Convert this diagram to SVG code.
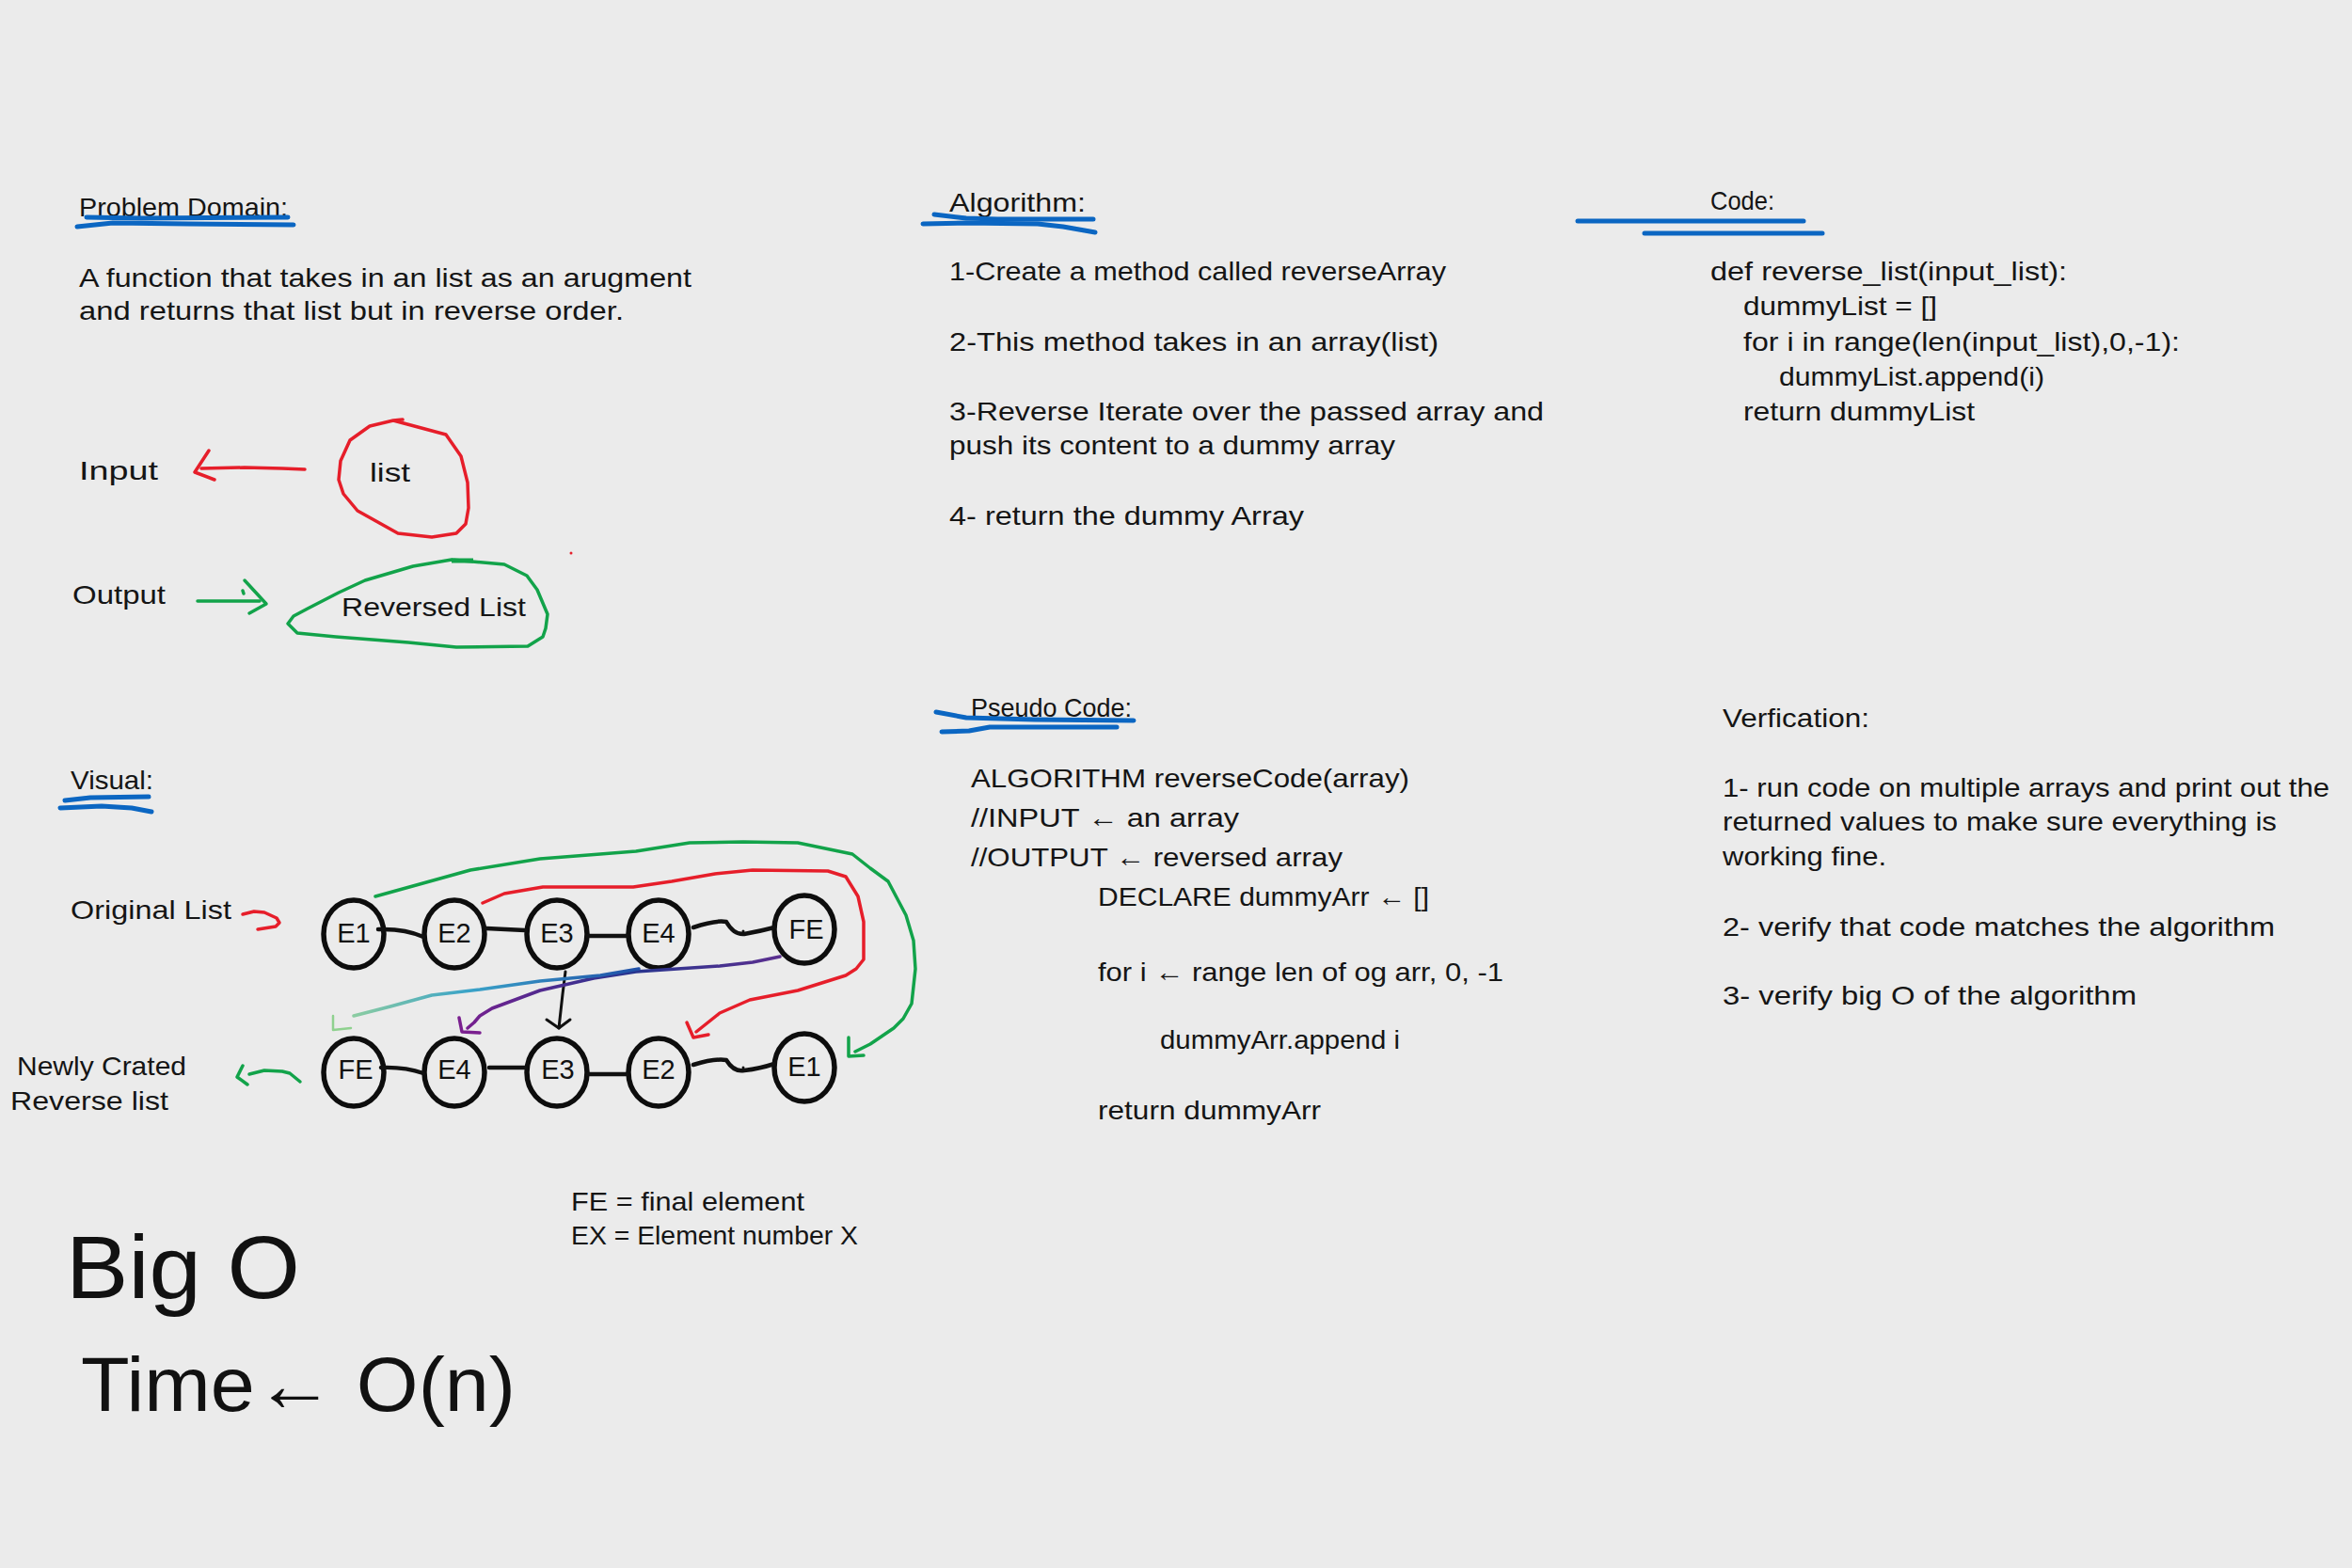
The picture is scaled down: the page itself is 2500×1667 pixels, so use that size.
<svg xmlns="http://www.w3.org/2000/svg" width="2500" height="1667" viewBox="0 0 2500 1667">
<style>
.t{font-family:"Liberation Sans Narrow","Liberation Sans",Arial,sans-serif;font-size:28px;fill:#151515;}
.nl{font-family:"Liberation Sans Narrow","Liberation Sans",Arial,sans-serif;font-size:29px;fill:#111;text-anchor:middle;}
.big{font-family:"Liberation Sans Narrow","Liberation Sans",Arial,sans-serif;fill:#111;}
.ul{stroke:#0b66c2;stroke-width:5;fill:none;stroke-linecap:round;stroke-linejoin:round;}
.red{stroke:#e61e2a;stroke-width:3.5;fill:none;stroke-linecap:round;stroke-linejoin:round;}
.grn{stroke:#12a34a;stroke-width:3.5;fill:none;stroke-linecap:round;stroke-linejoin:round;}
.blk{stroke:#111;stroke-width:3;fill:none;stroke-linecap:round;stroke-linejoin:round;}
.link{stroke:#111;stroke-width:4.5;fill:none;stroke-linecap:round;stroke-linejoin:round;}
.node ellipse{fill:none;stroke:#0d0d0d;stroke-width:5.5;}
</style>
<defs>
<linearGradient id="gTeal" gradientUnits="userSpaceOnUse" x1="680" y1="1030" x2="354" y2="1095">
<stop offset="0" stop-color="#1f4fa8"/><stop offset="0.55" stop-color="#3aa3c8"/><stop offset="1" stop-color="#9bd49a"/>
</linearGradient>
<linearGradient id="gPurp" gradientUnits="userSpaceOnUse" x1="829" y1="1017" x2="490" y2="1098">
<stop offset="0" stop-color="#5b2f8f"/><stop offset="0.45" stop-color="#27358f"/><stop offset="1" stop-color="#7a1f8f"/>
</linearGradient>
</defs>
<rect width="2500" height="1667" fill="#ebebeb"/>

<g id="problem-domain">
<text class="t" x="84" y="230" textLength="222" lengthAdjust="spacingAndGlyphs">Problem Domain:</text>
<polyline class="ul" points="92,231 150,232 306,231"/>
<polyline class="ul" points="82,241 120,237 200,238 312,239"/>
<text class="t" x="84" y="305" textLength="651" lengthAdjust="spacingAndGlyphs">A function that takes in an list as an arugment</text>
<text class="t" x="84" y="340" textLength="579" lengthAdjust="spacingAndGlyphs">and returns that list but in reverse order.</text>
</g>

<g id="input">
<text class="t" x="84" y="510" textLength="84" lengthAdjust="spacingAndGlyphs">Input</text>
<polyline class="red" points="324,499 300,498 260,497 214,498"/>
<polyline class="red" points="222,479 207,502 228,510"/>
</g>
<g id="node-list">
<polyline class="red" points="393,453 418,447 428,446 418,447 474,462 490,485 497,513 498,540 495,557 485,567 459,571 423,567 380,543 365,525 360,510 362,490 372,468 393,453"/>
<text class="t" x="393" y="512" textLength="43" lengthAdjust="spacingAndGlyphs">list</text>
</g>

<g id="output">
<text class="t" x="77" y="642" textLength="99" lengthAdjust="spacingAndGlyphs">Output</text>
<polyline class="grn" points="210,639 240,639 276,639"/>
<polyline class="grn" points="260,617 283,642 265,652"/>
<line class="grn" x1="258" y1="628" x2="259" y2="631"/>
</g>
<g id="node-reversed-list">
<polyline class="grn" points="480,595 536,600 560,612 571,627 582,653 580,668 577,677 561,687 485,688 434,683 357,677 316,673 306,663 312,655 327,647 360,630 388,617 439,602 480,595"/>
<line x1="480" y1="596" x2="503" y2="596" stroke="#12a34a" stroke-width="5"/>
<text class="t" x="363" y="655" textLength="196" lengthAdjust="spacingAndGlyphs">Reversed List</text>
</g>
<circle cx="607" cy="588" r="1.5" fill="#e61e2a"/>

<g id="algorithm">
<text class="t" x="1009" y="225" textLength="145" lengthAdjust="spacingAndGlyphs">Algorithm:</text>
<polyline class="ul" points="993,228 1027,232 1060,233 1162,233"/>
<polyline class="ul" points="981,238 1027,237 1103,238 1130,241 1164,247"/>
<text class="t" x="1009" y="298" textLength="528" lengthAdjust="spacingAndGlyphs">1-Create a method called reverseArray</text>
<text class="t" x="1009" y="373" textLength="520" lengthAdjust="spacingAndGlyphs">2-This method takes in an array(list)</text>
<text class="t" x="1009" y="447" textLength="632" lengthAdjust="spacingAndGlyphs">3-Reverse Iterate over the passed array and</text>
<text class="t" x="1009" y="483" textLength="474" lengthAdjust="spacingAndGlyphs">push its content to a dummy array</text>
<text class="t" x="1009" y="558" textLength="377" lengthAdjust="spacingAndGlyphs">4- return the dummy Array</text>
</g>

<g id="code">
<text class="t" x="1818" y="223" textLength="68" lengthAdjust="spacingAndGlyphs">Code:</text>
<line class="ul" x1="1677" y1="235" x2="1917" y2="235"/>
<line class="ul" x1="1748" y1="248" x2="1937" y2="248"/>
<text class="t" x="1818" y="298" textLength="379" lengthAdjust="spacingAndGlyphs">def reverse_list(input_list):</text>
<text class="t" x="1853" y="335" textLength="206" lengthAdjust="spacingAndGlyphs">dummyList = []</text>
<text class="t" x="1853" y="373" textLength="464" lengthAdjust="spacingAndGlyphs">for i in range(len(input_list),0,-1):</text>
<text class="t" x="1891" y="410" textLength="282" lengthAdjust="spacingAndGlyphs">dummyList.append(i)</text>
<text class="t" x="1853" y="447" textLength="246" lengthAdjust="spacingAndGlyphs">return dummyList</text>
</g>

<g id="pseudo-code">
<text class="t" x="1032" y="762" textLength="171" lengthAdjust="spacingAndGlyphs">Pseudo Code:</text>
<polyline class="ul" points="995,757 1027,763 1100,765 1205,766"/>
<polyline class="ul" points="1001,778 1030,777 1052,773 1187,773"/>
<text class="t" x="1032" y="837" textLength="466" lengthAdjust="spacingAndGlyphs">ALGORITHM reverseCode(array)</text>
<text class="t" x="1032" y="879" textLength="285" lengthAdjust="spacingAndGlyphs">//INPUT ← an array</text>
<text class="t" x="1032" y="921" textLength="395" lengthAdjust="spacingAndGlyphs">//OUTPUT ← reversed array</text>
<text class="t" x="1167" y="963" textLength="352" lengthAdjust="spacingAndGlyphs">DECLARE dummyArr ← []</text>
<text class="t" x="1167" y="1043" textLength="431" lengthAdjust="spacingAndGlyphs">for i ← range len of og arr, 0, -1</text>
<text class="t" x="1233" y="1115" textLength="255" lengthAdjust="spacingAndGlyphs">dummyArr.append i</text>
<text class="t" x="1167" y="1190" textLength="237" lengthAdjust="spacingAndGlyphs">return dummyArr</text>
</g>

<g id="verification">
<text class="t" x="1831" y="773" textLength="156" lengthAdjust="spacingAndGlyphs">Verfication:</text>
<text class="t" x="1831" y="847" textLength="645" lengthAdjust="spacingAndGlyphs">1- run code on multiple arrays and print out the</text>
<text class="t" x="1831" y="883" textLength="589" lengthAdjust="spacingAndGlyphs">returned values to make sure everything is</text>
<text class="t" x="1831" y="920" textLength="174" lengthAdjust="spacingAndGlyphs">working fine.</text>
<text class="t" x="1831" y="995" textLength="587" lengthAdjust="spacingAndGlyphs">2- verify that code matches the algorithm</text>
<text class="t" x="1831" y="1068" textLength="440" lengthAdjust="spacingAndGlyphs">3- verify big O of the algorithm</text>
</g>

<g id="visual">
<text class="t" x="75" y="839" textLength="88" lengthAdjust="spacingAndGlyphs">Visual:</text>
<polyline class="ul" points="69,851 96,848 158,847"/>
<polyline class="ul" points="64,859 108,857 140,859 161,863"/>
<text class="t" x="75" y="977" textLength="171" lengthAdjust="spacingAndGlyphs">Original List</text>
<polyline class="red" points="258,972 270,969 281,970 294,976 297,981 293,985 274,988"/>
<text class="t" x="18" y="1143" textLength="180" lengthAdjust="spacingAndGlyphs">Newly Crated</text>
<text class="t" x="11" y="1180" textLength="168" lengthAdjust="spacingAndGlyphs">Reverse list</text>
<polyline class="grn" points="319,1150 308,1141 300,1139 281,1138 265,1142"/>
<polyline class="grn" points="258,1133 252,1145 263,1153"/>
</g>

<g id="node-top-E1" class="node"><ellipse cx="376" cy="993" rx="32" ry="36"/><text class="nl" x="376" y="1002">E1</text></g>
<g id="node-top-E2" class="node"><ellipse cx="483" cy="993" rx="32" ry="36"/><text class="nl" x="483" y="1002">E2</text></g>
<g id="node-top-E3" class="node"><ellipse cx="592" cy="993" rx="32" ry="36"/><text class="nl" x="592" y="1002">E3</text></g>
<g id="node-top-E4" class="node"><ellipse cx="700" cy="993" rx="32" ry="36"/><text class="nl" x="700" y="1002">E4</text></g>
<g id="node-top-FE" class="node"><ellipse cx="855" cy="988" rx="32" ry="36"/><text class="nl" x="857" y="998">FE</text></g>
<g id="node-bot-FE" class="node"><ellipse cx="376" cy="1140" rx="32" ry="36"/><text class="nl" x="378" y="1147">FE</text></g>
<g id="node-bot-E4" class="node"><ellipse cx="483" cy="1140" rx="32" ry="36"/><text class="nl" x="483" y="1147">E4</text></g>
<g id="node-bot-E3" class="node"><ellipse cx="592" cy="1140" rx="32" ry="36"/><text class="nl" x="593" y="1147">E3</text></g>
<g id="node-bot-E2" class="node"><ellipse cx="700" cy="1140" rx="32" ry="36"/><text class="nl" x="700" y="1147">E2</text></g>
<g id="node-bot-E1" class="node"><ellipse cx="855" cy="1135" rx="32" ry="36"/><text class="nl" x="855" y="1144">E1</text></g>

<g id="connectors">
<path class="link" d="M402,988 Q430,987 450,996"/>
<path class="link" d="M517,987 L558,989"/>
<path class="link" d="M625,995 L666,995"/>
<path class="link" d="M737,986 Q760,978 772,980 Q780,994 791,993 Q808,990 823,986"/>
<circle cx="790" cy="990" r="1.5" fill="#111"/>
<path class="link" d="M405,1135 Q430,1134 450,1141"/>
<path class="link" d="M520,1135 L558,1135"/>
<path class="link" d="M625,1142 L666,1142"/>
<path class="link" d="M737,1132 Q760,1125 772,1127 Q780,1140 791,1138 Q808,1136 823,1131"/>
<circle cx="790" cy="1135" r="1.5" fill="#111"/>

<polyline class="grn" points="399,953 446,940 500,925 574,913 638,908 676,905 733,896 790,895 848,896 906,908 925,923 944,937 963,973 971,1000 973,1030 969,1067 960,1083 950,1093 925,1110 909,1118"/>
<polyline class="grn" points="902,1103 902,1123 918,1122"/>

<polyline class="red" points="513,960 536,950 577,943 673,943 714,937 760,929 800,925 880,926 899,932 912,953 918,980 918,1020 910,1030 899,1037 848,1053 797,1063 765,1077 740,1097"/>
<polyline class="red" points="730,1087 737,1103 753,1100"/>

<polyline class="blk" points="601,1033 598,1057 596,1075 594,1093"/>
<polyline class="blk" points="581,1084 594,1093 606,1084"/>

<polyline points="829,1017 800,1023 765,1027 720,1030 676,1033 631,1040 574,1053 523,1072 510,1080 504,1087 497,1093" fill="none" stroke="url(#gPurp)" stroke-width="3.5" stroke-linecap="round" stroke-linejoin="round"/>
<polyline points="488,1082 491,1097 510,1098" fill="none" stroke="#7a1f8f" stroke-width="3.5" stroke-linecap="round" stroke-linejoin="round"/>

<polyline points="679,1030 638,1037 574,1043 510,1052 459,1058 415,1070 376,1080" fill="none" stroke="url(#gTeal)" stroke-width="3.5" stroke-linecap="round" stroke-linejoin="round"/>
<polyline points="354,1080 354,1095 373,1093" fill="none" stroke="#8fd18f" stroke-width="2.5" stroke-linecap="round" stroke-linejoin="round"/>
</g>

<g id="legend">
<text class="t" x="607" y="1287" textLength="248" lengthAdjust="spacingAndGlyphs">FE = final element</text>
<text class="t" x="607" y="1323" textLength="305" lengthAdjust="spacingAndGlyphs">EX = Element number X</text>
</g>

<g id="big-o">
<text class="big" x="70" y="1380" font-size="95" textLength="249" lengthAdjust="spacingAndGlyphs">Big O</text>
<text class="big" x="86" y="1500" font-size="82" textLength="462" lengthAdjust="spacingAndGlyphs">Time← O(n)</text>
</g>
</svg>
